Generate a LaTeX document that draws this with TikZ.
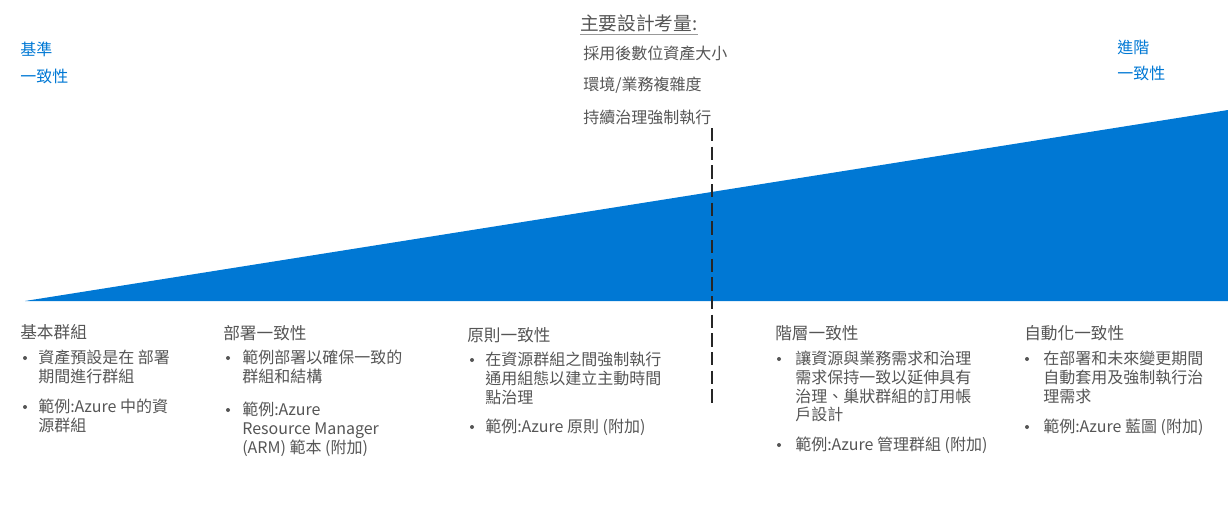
\documentclass[tikz,border=0pt]{standalone}
\usepackage{fontspec}
\setmainfont{Noto Sans CJK TC}
\definecolor{azure}{HTML}{0078D4}
\definecolor{txt}{HTML}{555555}
\tikzset{
  lvl/.style={anchor=west,inner sep=0,text=azure,font=\fontsize{12}{14}\selectfont},
  head/.style={anchor=west,inner sep=0,text=txt,font=\fontsize{12.5}{14}\selectfont},
  consid/.style={anchor=west,inner sep=0,text=txt,font=\fontsize{12}{14}\selectfont},
  item/.style={anchor=north west,inner sep=0,align=left,text=txt,font=\fontsize{12}{14}\selectfont},
  dot/.style={circle,fill=txt,inner sep=0,minimum size=3pt}
}
\begin{document}
\begin{tikzpicture}[x=0.75pt,y=-0.75pt]
\useasboundingbox (0,0) rectangle (1228,514);
\fill[azure] (25,301) -- (1228,301) -- (1228,110) -- cycle;
\node[lvl] (base) at (20,49) {基準}; \node[lvl] (basec) at (20,76) {一致性};
\node[lvl] (adv) at (1117,47) {進階}; \node[lvl] (advc) at (1117,73) {一致性};
\node[anchor=west,inner sep=0,text=txt,font=\fontsize{14}{16}\selectfont] (title) at (580,23) {主要設計考量:};
\draw[black!40,line width=1.2pt] ([yshift=-2pt]title.south west) -- ([yshift=-2pt]title.south east);
\node[consid] (c1) at (583,53) {採用後數位資產大小};
\node[consid] (c2) at (583,85) {環境/業務複雜度};
\node[consid] (c3) at (583,117) {持續治理強制執行};
\coordinate (top) at (712,128); \coordinate (bot) at (712,405);
\draw[black!85,line width=1.5pt,dash pattern=on 10pt off 4pt] (top) -- (bot);
\node[head] (h1) at (20,332) {基本群組};
\node[dot] (d11) at (25,358) {}; \node[item] (t11) at (38,350) {資產預設是在 部署\\期間進行群組};
\node[dot] (d12) at (25,407) {}; \node[item] (t12) at (38,399) {範例:Azure 中的資\\源群組};
\node[head] (h2) at (223,333) {部署一致性};
\node[dot] (d21) at (228,358) {}; \node[item] (t21) at (242,350) {範例部署以確保一致的\\群組和結構};
\node[dot] (d22) at (228,410) {}; \node[item] (t22) at (242,402) {範例:Azure\\Resource Manager\\(ARM) 範本 (附加)};
\node[head] (h3) at (467,335) {原則一致性};
\node[dot] (d31) at (472,360) {}; \node[item] (t31) at (485,352) {在資源群組之間強制執行\\通用組態以建立主動時間\\點治理};
\node[dot] (d32) at (472,427) {}; \node[item] (t32) at (485,419) {範例:Azure 原則 (附加)};
\node[head] (h4) at (775,333) {階層一致性};
\node[dot] (d41) at (779,359) {}; \node[item] (t41) at (795,351) {讓資源與業務需求和治理\\需求保持一致以延伸具有\\治理、巢狀群組的訂用帳\\戶設計};
\node[dot] (d42) at (779,445) {}; \node[item] (t42) at (795,437) {範例:Azure 管理群組 (附加)};
\node[head] (h5) at (1024,333) {自動化一致性};
\node[dot] (d51) at (1027,359) {}; \node[item] (t51) at (1043,351) {在部署和未來變更期間\\自動套用及強制執行治\\理需求};
\node[dot] (d52) at (1027,427) {}; \node[item] (t52) at (1043,419) {範例:Azure 藍圖 (附加)};
\end{tikzpicture}
\end{document}
